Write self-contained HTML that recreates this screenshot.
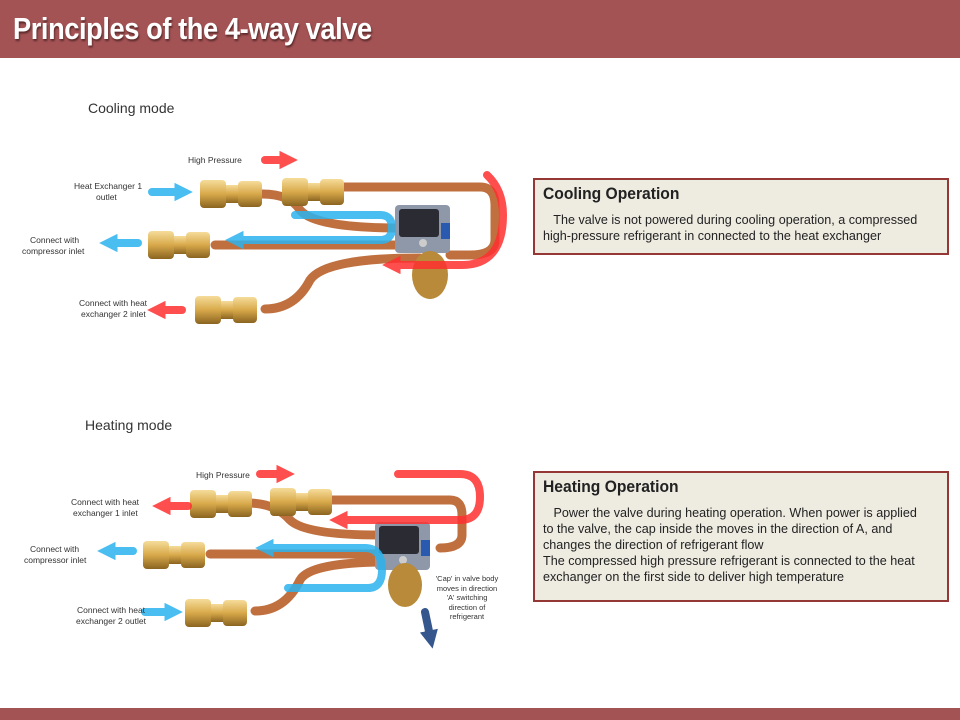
<!DOCTYPE html>
<html><head><meta charset="utf-8"><style>
body{margin:0;width:960px;height:720px;background:#fff;position:relative;overflow:hidden;font-family:"Liberation Sans","Noto Sans CJK KR",sans-serif}
.hdr{position:absolute;left:0;top:0;width:960px;height:58px;background:#a45355}
.ttl{position:absolute;left:13px;top:11px;color:#fff;font-size:31px;font-weight:bold;transform:scaleX(0.88);transform-origin:left top;white-space:nowrap;text-shadow:1px 2px 2px #5a2a2a;letter-spacing:-0.5px}
.ftr{position:absolute;left:0;top:708px;width:960px;height:12px;background:#a45355}
.box{position:absolute;left:533px;width:416px;background:#eeebe1;border:2px solid #953735;box-sizing:border-box;padding:4px 8px;color:#222}
.box h3{margin:0 0 8px;font-size:17px;font-weight:bold;transform:scaleX(0.92);transform-origin:left}
.box p{margin:0;font-size:12.6px;line-height:16px;white-space:nowrap}
.mode{position:absolute;font-size:14px;color:#333}
svg{position:absolute;left:0;top:0}
</style></head><body>
<div class="hdr"><div class="ttl">Principles of the 4-way valve</div></div>
<div class="ftr"></div>
<div class="mode" style="left:88px;top:100px">Cooling mode</div>
<div class="mode" style="left:85px;top:417px">Heating mode</div>
<div class="box" style="top:178px;height:77px"><h3>Cooling Operation</h3><p>&nbsp;&nbsp; The valve is not powered during cooling operation, a compressed<br>high-pressure refrigerant in connected to the heat exchanger</p></div>
<div class="box" style="top:471px;height:131px"><h3>Heating Operation</h3><p>&nbsp;&nbsp; Power the valve during heating operation. When power is applied<br>to the valve, the cap inside the moves in the direction of A, and<br>changes the direction of refrigerant flow<br>The compressed high pressure refrigerant is connected to the heat<br>exchanger on the first side to deliver high temperature</p></div>
<svg width="960" height="720" font-family="Liberation Sans, sans-serif" font-size="8.5" fill="#333">
<defs>
<linearGradient id="br" x1="0" y1="0" x2="0" y2="1"><stop offset="0" stop-color="#f5dc9a"/><stop offset="0.5" stop-color="#d8a94a"/><stop offset="1" stop-color="#8a6420"/></linearGradient>
<marker id="ar" viewBox="0 0 10 10" refX="3" refY="5" markerWidth="2.3" markerHeight="2.3" orient="auto"><path d="M0,0L10,5L0,10z" fill="context-stroke"/></marker>
<g id="fit"><rect x="0" y="-14" width="26" height="28" rx="4" fill="url(#br)"/><rect x="26" y="-9" width="12" height="18" fill="url(#br)"/><rect x="38" y="-13" width="24" height="26" rx="4" fill="url(#br)"/></g>
<g id="valve"><rect x="0" y="0" width="55" height="48" rx="4" fill="#8e98a8"/><rect x="4" y="4" width="40" height="28" rx="3" fill="#2b2b33"/><rect x="46" y="18" width="9" height="16" fill="#2a5ab0"/><circle cx="28" cy="38" r="4" fill="#ccc"/></g>
</defs>
<g fill="none" stroke="#c0703f" stroke-width="9" stroke-linecap="round">
<path d="M340,187 H480 Q495,187 495,205 V240 Q495,255 470,255 H450"/>
<path d="M262,194 Q290,194 300,210 Q315,228 400,228"/>
<path d="M215,245 H420"/>
<path d="M265,309 Q295,309 310,280 Q325,258 420,258"/>
</g>
<use href="#valve" x="395" y="205"/>
<ellipse cx="430" cy="275" rx="18" ry="24" fill="#b88a3a"/>
<use href="#fit" x="200" y="194"/><use href="#fit" x="282" y="192"/>
<use href="#fit" x="148" y="245"/><use href="#fit" x="195" y="310"/>
<g fill="none" stroke-width="8" stroke-linecap="round" opacity="0.85">
<path d="M295,215 H380 Q392,215 392,228 Q392,240 380,240 H238" stroke="#2bb3ee" marker-end="url(#ar)"/>
<path d="M152,192 H180" stroke="#2bb3ee" marker-end="url(#ar)"/>
<path d="M138,243 H112" stroke="#2bb3ee" marker-end="url(#ar)"/>
<path d="M265,160 H285" stroke="#ff3030" marker-end="url(#ar)"/>
<path d="M182,310 H160" stroke="#ff3030" marker-end="url(#ar)"/>
<path d="M487,175 Q503,190 503,215 Q503,265 462,265 H395" stroke="#ff3030" marker-end="url(#ar)"/>
</g>
<text x="188" y="163">High Pressure</text>
<text x="74" y="189">Heat Exchanger 1</text><text x="96" y="200">outlet</text>
<text x="30" y="243">Connect with</text><text x="22" y="254">compressor inlet</text>
<text x="79" y="306">Connect with heat</text><text x="81" y="317">exchanger 2 inlet</text>
<g fill="none" stroke="#c0703f" stroke-width="9" stroke-linecap="round">
<path d="M325,500 H450 Q462,500 462,515 V535 Q462,548 440,548"/>
<path d="M248,503 Q275,503 290,520 Q305,535 380,535"/>
<path d="M210,554 H395"/>
<path d="M255,611 Q285,611 300,580 Q310,562 390,562"/>
</g>
<use href="#valve" x="375" y="522"/>
<ellipse cx="405" cy="585" rx="17" ry="22" fill="#b88a3a"/>
<use href="#fit" x="190" y="504"/><use href="#fit" x="270" y="502"/>
<use href="#fit" x="143" y="555"/><use href="#fit" x="185" y="613"/>
<g fill="none" stroke-width="8" stroke-linecap="round" opacity="0.85">
<path d="M398,474 H460 Q480,474 480,497 Q480,520 460,520 H342" stroke="#ff3030" marker-end="url(#ar)"/>
<path d="M188,506 H165" stroke="#ff3030" marker-end="url(#ar)"/>
<path d="M260,474 H282" stroke="#ff3030" marker-end="url(#ar)"/>
<path d="M288,588 H368 Q382,588 382,570 Q382,548 365,548 H268" stroke="#2bb3ee" marker-end="url(#ar)"/>
<path d="M133,551 H110" stroke="#2bb3ee" marker-end="url(#ar)"/>
<path d="M145,612 H170" stroke="#2bb3ee" marker-end="url(#ar)"/>
<path d="M425,612 L430,636" stroke="#123a7a" opacity="1" marker-end="url(#ar)"/>
</g>
<text x="196" y="478">High Pressure</text>
<text x="71" y="505">Connect with heat</text><text x="73" y="516">exchanger 1 inlet</text>
<text x="30" y="552">Connect with</text><text x="24" y="563">compressor inlet</text>
<text x="77" y="613">Connect with heat</text><text x="76" y="624">exchanger 2 outlet</text>
<g font-size="7.5" text-anchor="middle"><text x="467" y="581">'Cap' in valve body</text><text x="467" y="591">moves in direction</text><text x="467" y="600">'A' switching</text><text x="467" y="610">direction of</text><text x="467" y="619">refrigerant</text></g>
</svg>
</body></html>
